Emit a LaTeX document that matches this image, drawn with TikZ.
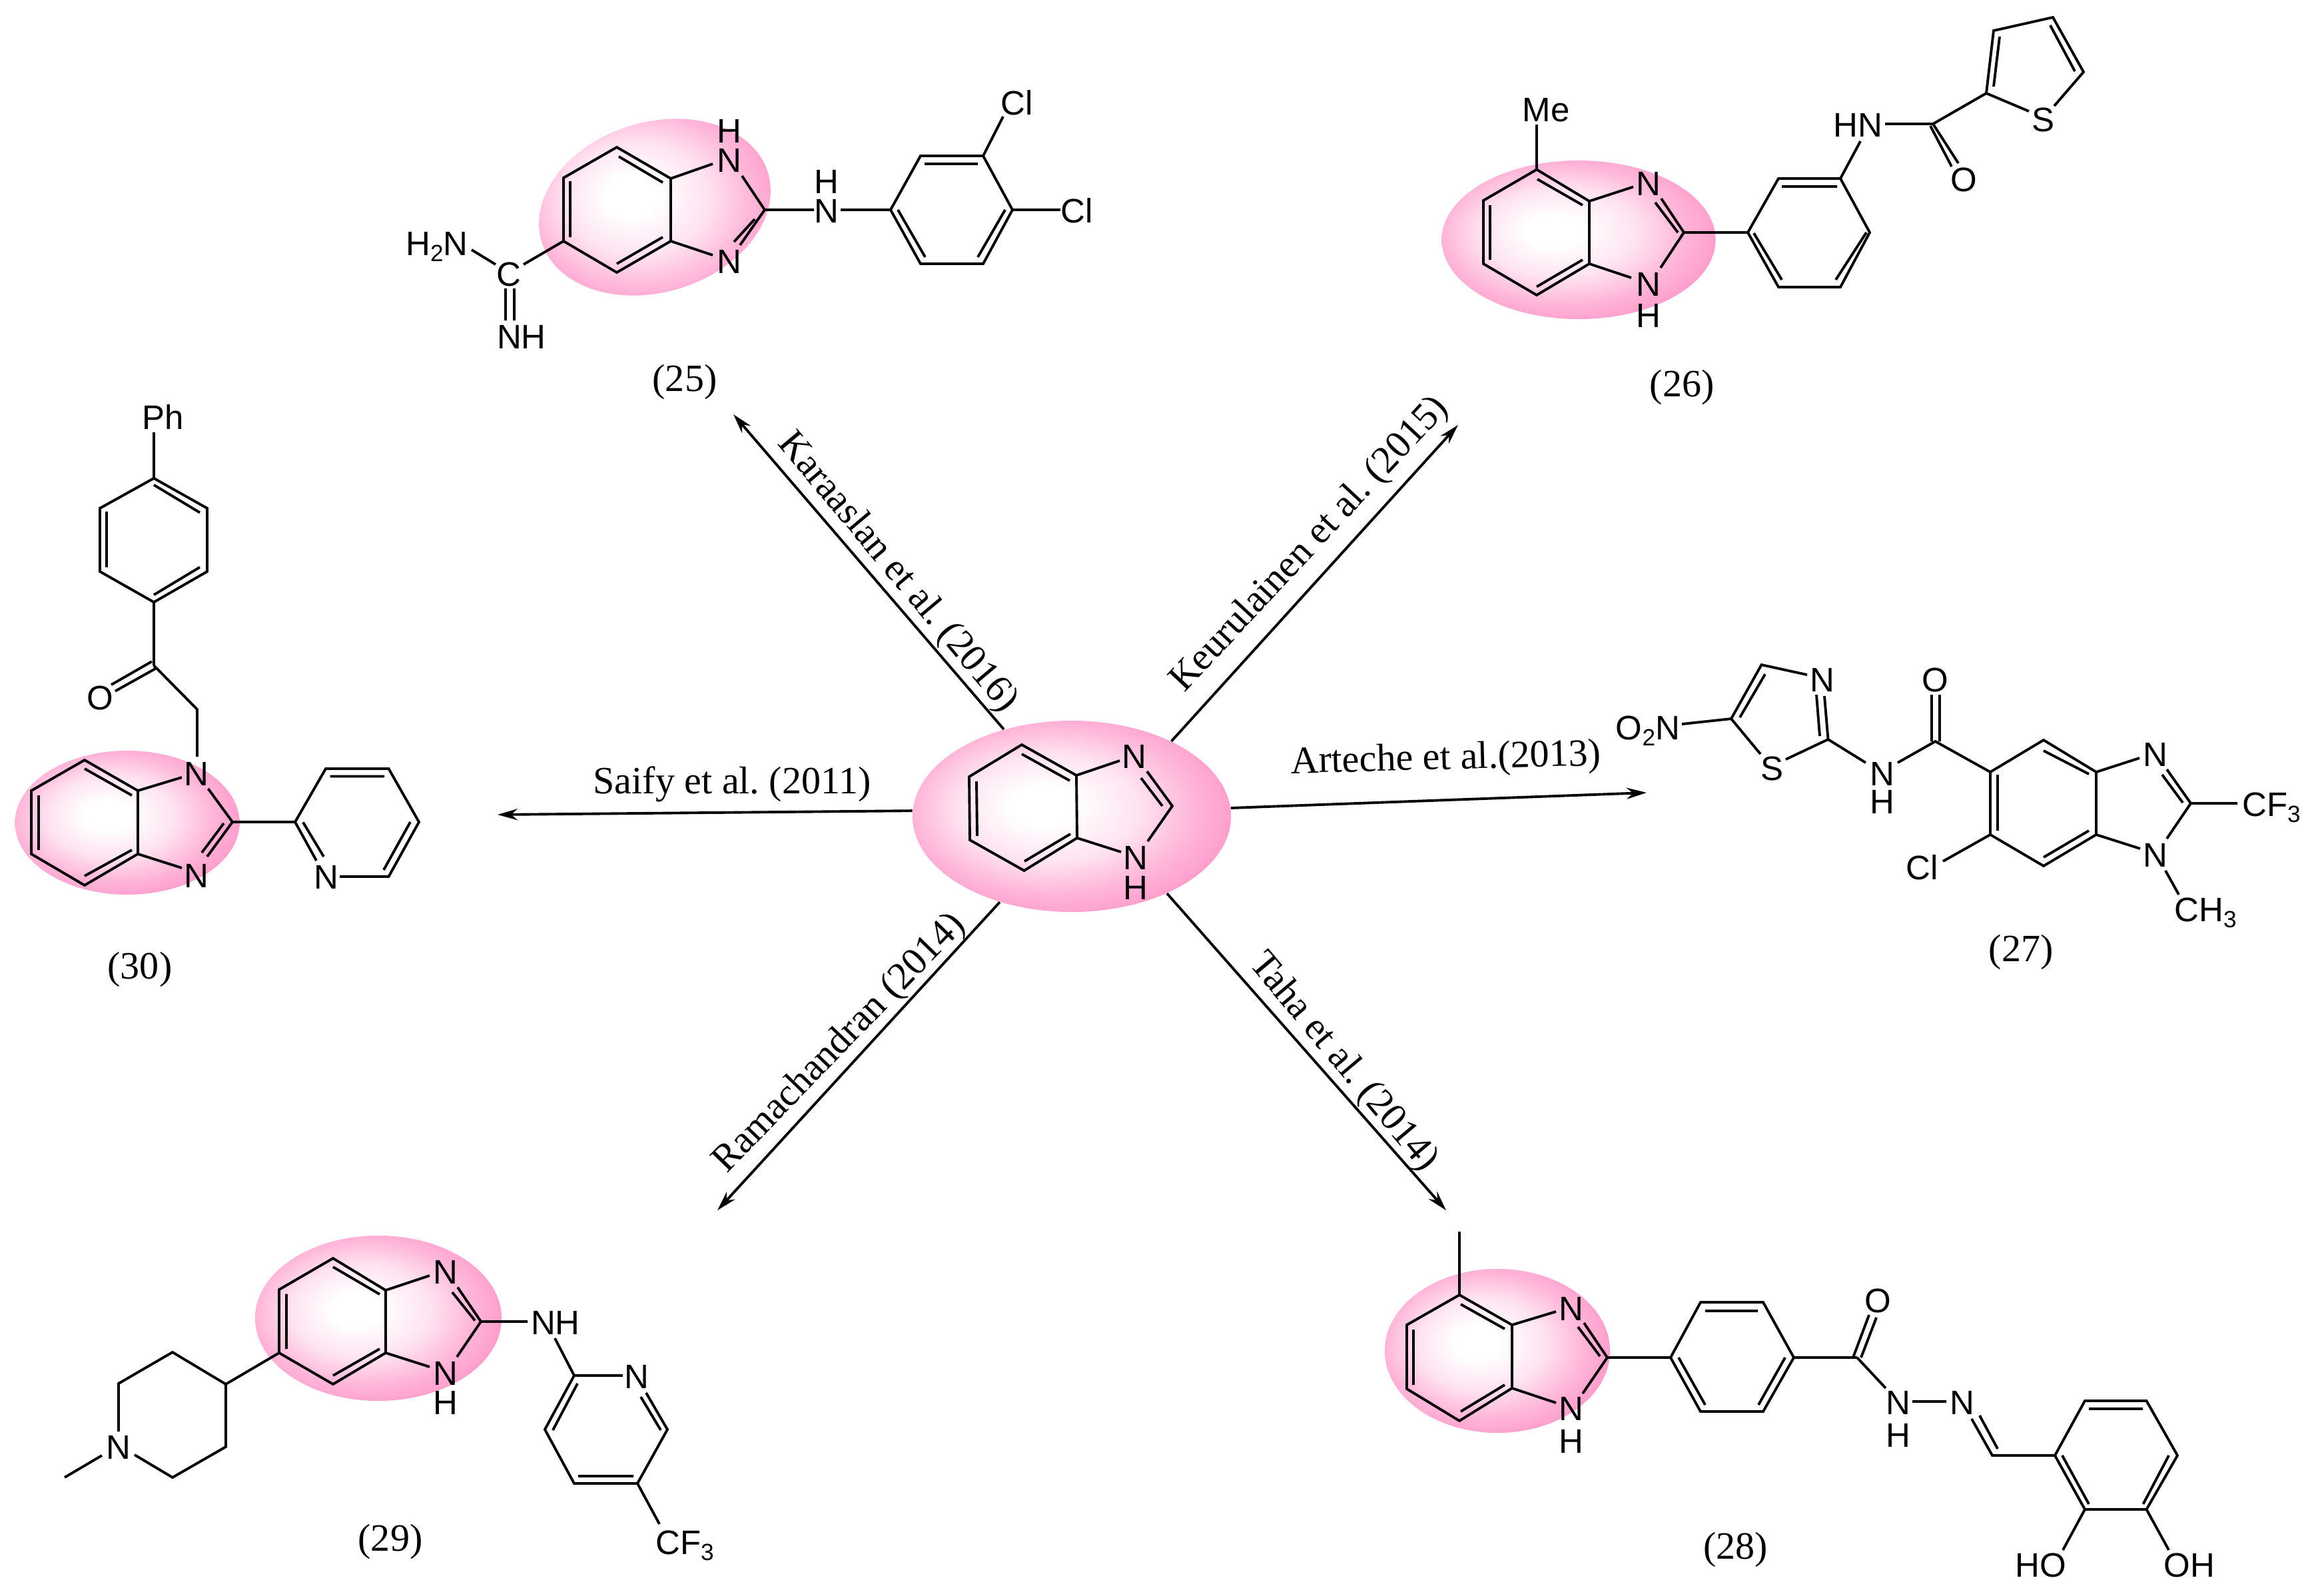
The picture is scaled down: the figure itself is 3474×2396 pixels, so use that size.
\documentclass[tikz,border=0pt]{standalone}
\usepackage{fontspec}
\setmainfont{Liberation Serif}
\newfontfamily\atomfam{Liberation Sans}
\usetikzlibrary{arrows.meta,shapes.geometric}
\definecolor{ballA}{HTML}{FFFFFF}
\definecolor{ballB}{HTML}{FFE3F1}
\definecolor{ballC}{HTML}{FFB5D9}
\definecolor{ballD}{HTML}{FF9CCC}
\pgfdeclareradialshading{pinkball}{\pgfpoint{-5bp}{3bp}}{color(0bp)=(ballA); color(5bp)=(ballA); color(14bp)=(ballB); color(22bp)=(ballC); color(28bp)=(ballD); color(50bp)=(ballD)}
\newcommand{\subd}[1]{\raisebox{-2.6pt}{\fontsize{10}{10}\selectfont #1}}
\tikzset{
  ball/.style={ellipse,shading=pinkball,draw=none,inner sep=0pt},
  bond/.style={line width=1.1pt,line join=miter},
  link/.style={line width=1.1pt,-{Stealth[length=0.3cm,width=0.17cm]}},
  atom/.style={font=\atomfam\fontsize{14.5}{14.5}\selectfont,inner sep=0pt,text height=10.4pt,text depth=0pt},
  caption/.style={font=\frenchspacing\fontsize{16.5}{16.5}\selectfont,inner sep=0pt},
  ref/.style={font=\fontsize{16.5}{16.5}\selectfont,inner sep=0pt}
}
\begin{document}
\begin{tikzpicture}[x=0.01cm,y=-0.01cm]
\useasboundingbox (0,0) rectangle (3474,2396);
% ---------- ellipses
\node[ball,minimum width=4.78cm,minimum height=2.87cm] (hub) at (1609,1225.5) {};
\node[ball,minimum width=3.55cm,minimum height=2.55cm,rotate=17] (e25) at (983,311) {};
\node[ball,minimum width=4.11cm,minimum height=2.38cm] (e26) at (2370,360) {};
\node[ball,minimum width=3.38cm,minimum height=2.46cm] (e28) at (2248,2028) {};
\node[ball,minimum width=3.70cm,minimum height=2.48cm] (e29) at (568,1979) {};
\node[ball,minimum width=3.37cm,minimum height=2.16cm] (e30) at (191,1235) {};
% ---------- arrows
\coordinate (t25) at (1101,622);
\coordinate (t26) at (2189,638);
\coordinate (t27) at (2472,1190);
\coordinate (t28) at (2171,1817);
\coordinate (t29) at (1077,1817);
\coordinate (t30) at (747,1223);
\draw[link] (hub.128.2) -- (t25);
\draw[link] (hub.37.9) -- (t26);
\draw[link] (hub.3.7) -- (t27);
\draw[link] (hub.-39.6) -- (t28);
\draw[link] (hub.230.3) -- (t29);
\draw[link] (hub.178.4) -- (t30);
\node[caption,rotate=-50] (c25) at (1347,860) {Karaaslan et al. (2016)};
\node[caption,rotate=47] (c26) at (1967,818) {Keurulainen et al. (2015)};
\node[caption,rotate=1.5] (c27) at (2171,1141) {Arteche et al.(2013)};
\node[caption,rotate=-50] (c28) at (2016,1595) {Taha et al. (2014)};
\node[caption,rotate=46] (c29) at (1261,1567) {Ramachandran (2014)};
\node[caption] (c30) at (1099,1177) {Saify et al. (2011)};
% ---------- hub molecule
\draw[bond] (1681,1142)--(1616,1164)--(1534,1118)--(1455,1166)--(1456,1261)--(1537.5,1307)--(1617,1258)--(1616,1164)
  (1617,1258)--(1683,1279)
  (1722,1158)--(1760,1210)--(1723,1263)
  (1713,1168)--(1745,1210)
  (1534,1132)--(1606,1172) (1466,1173)--(1467,1255) (1538,1293)--(1607,1252);
\node[atom] (hN1) at (1703,1135) {N};
\node[atom] (hN2) at (1705,1287) {N};
\node[atom] (hH) at (1705,1332) {H};
% ---------- 25
\draw[bond] (1070,246)--(1007,268)--(926,221)--(846,267)--(846,362)--(926,409)--(1007,362)--(1007,268)
  (1007,362)--(1070,383)
  (1114,264)--(1148,315)--(1111,368)
  (1133,329)--(1102,363)
  (929,235)--(995,274) (856,272)--(856,356) (926,396)--(995,356)
  (1148,315)--(1222,315) (1262,315)--(1337,315)
  (1337,315)--(1382,234)--(1476,234)--(1520,315)--(1476,396)--(1382,396)--cycle
  (1388,246)--(1468,246) (1509,315)--(1468,386) (1348,315)--(1389,386)
  (1476,234)--(1506,175) (1520,315)--(1592,315)
  (846,362)--(786,397) (708,375)--(744,397)
  (759,433)--(759,481) (772,433)--(772,481);
\node[atom] (a25a) at (1095,196) {H};
\node[atom] (a25b) at (1095,240) {N};
\node[atom] (a25c) at (1095,392) {N};
\node[atom] (a25d) at (1241,272) {H};
\node[atom] (a25e) at (1241,316) {N};
\node[atom] (a25f) at (1527,154) {Cl};
\node[atom] (a25g) at (1617,316) {Cl};
\node[atom] (a25h) at (764,411) {C};
\node[atom] (a25i) at (656,365) {H\subd{2}N};
\node[atom] (a25j) at (783,505) {NH};
\node[ref] (r25) at (1028,574) {(25)};
% ---------- 26
\draw[bond] (2307,254.5)--(2386,302)--(2386,396)--(2307,443)--(2227,396)--(2227,301)--cycle
  (2308,269)--(2376,308) (2237,308)--(2237,390) (2307,430.5)--(2376,390)
  (2307,254.5)--(2307,187)
  (2386,302)--(2452,280.5) (2386,396)--(2449,417)
  (2494,298)--(2528,349)--(2493,402)
  (2485,304)--(2519,349)
  (2528,349)--(2624,349)
  (2624,349)--(2670,268)--(2763,268)--(2807,349)--(2763,431)--(2670,431)--cycle
  (2675,280)--(2758,280) (2633,350)--(2675,420) (2802,349)--(2756,420)
  (2763,268)--(2793,212)
  (2830,186)--(2902,186)--(2940,245) (2898,189)--(2930,250)
  (2902,186)--(2982,140)
  (3046,167)--(2982,140)--(2993,46)--(3082,26)--(3128,108)--(3084,159)
  (3002,55)--(2993,130) (3078,38)--(3115,107);
\node[atom] (a26a) at (2321,164) {Me};
\node[atom] (a26b) at (2475,275) {N};
\node[atom] (a26c) at (2475,426) {N};
\node[atom] (a26d) at (2475,473) {H};
\node[atom] (a26e) at (2789,187.5) {HN};
\node[atom] (a26f) at (2948,269) {O};
\node[atom] (a26g) at (3067,179) {S};
\node[ref] (r26) at (2525,582) {(26)};
% ---------- 27
\draw[bond] (2525,1087)--(2599,1079)--(2644.5,998)--(2713,1013)
  (2739,1045)--(2744.5,1110) (2727,1043)--(2732,1105)
  (2599,1079)--(2643,1132) (2744.5,1110)--(2681,1140)
  (2650,1012)--(2612,1077)
  (2744.5,1110)--(2801,1145)
  (2849,1145)--(2905.5,1113)--(2988,1159)
  (2900,1113)--(2900,1043) (2912,1113)--(2912,1043)
  (2988,1159)--(3068,1111)--(3147,1159)--(3147,1253)--(3068,1300)--(2988,1253)--cycle
  (3068,1127)--(3136,1162) (2999,1163)--(2999,1247) (3068,1287)--(3136,1247)
  (3147,1159)--(3212,1138) (3147,1253)--(3213,1274)
  (3253,1155)--(3289,1206)--(3253,1259)
  (3246,1163)--(3277,1205)
  (3289,1206)--(3359,1206)
  (2988,1253)--(2917,1293)
  (3251,1307)--(3271,1343);
\node[atom] (a27a) at (2474,1092) {O\subd{2}N};
\node[atom] (a27b) at (2736,1020) {N};
\node[atom] (a27c) at (2660,1153) {S};
\node[atom] (a27d) at (2826,1161) {N};
\node[atom] (a27e) at (2826,1203) {H};
\node[atom] (a27f) at (2905.5,1020) {O};
\node[atom] (a27g) at (3236,1132) {N};
\node[atom] (a27h) at (3236,1283) {N};
\node[atom] (a27i) at (3410,1207) {CF\subd{3}};
\node[atom] (a27j) at (2886,1302) {Cl};
\node[atom] (a27k) at (3311,1365) {CH\subd{3}};
\node[ref] (r27) at (3034,1430) {(27)};
% ---------- 28
\draw[bond] (2191,1944)--(2270,1989)--(2270,2084)--(2191,2133)--(2112,2085)--(2112,1989)--cycle
  (2193,1958)--(2259,1995) (2122,1996)--(2122,2079) (2193,2119)--(2259,2079)
  (2191,1944)--(2191,1849)
  (2270,1989)--(2336,1969) (2270,2084)--(2336,2106)
  (2378,1986)--(2413,2038)--(2376,2092)
  (2369,1992)--(2402,2036)
  (2413,2038)--(2508,2038)
  (2508,2038)--(2553,1955)--(2647,1955)--(2693,2038)--(2647,2119)--(2553,2119)--cycle
  (2560,1968)--(2639,1968) (2520,2038)--(2560,2109) (2680,2038)--(2640,2109)
  (2693,2038)--(2788,2038)
  (2782,2038)--(2806,1974) (2794,2038)--(2817,1978)
  (2788,2038)--(2831,2084)
  (2871,2104)--(2922,2104)
  (2960,2130)--(2991,2185)--(3085,2185) (2972,2125)--(2999,2175)
  (3085,2185)--(3130,2103)--(3222.5,2103)--(3269,2185)--(3222.5,2266)--(3130,2266)--cycle
  (3136,2115)--(3217,2115) (3096,2185)--(3136,2258) (3256,2185)--(3217.5,2258)
  (3130,2266)--(3097,2327) (3222.5,2266)--(3256,2327);
\node[atom] (a28a) at (2359,1964) {N};
\node[atom] (a28b) at (2359,2114) {N};
\node[atom] (a28c) at (2359,2163) {H};
\node[atom] (a28d) at (2819.5,1952) {O};
\node[atom] (a28e) at (2850,2105) {N};
\node[atom] (a28f) at (2850,2154) {H};
\node[atom] (a28g) at (2945.5,2105) {N};
\node[atom] (a28h) at (3064,2349) {HO};
\node[atom] (a28i) at (3287,2349) {OH};
\node[ref] (r28) at (2605.5,2327) {(28)};
% ---------- 29
\draw[bond] (500,1889)--(579,1937)--(579,2031)--(500,2078)--(419,2031)--(419,1936)--cycle
  (500,1902)--(570,1943) (430,1942.5)--(430,2025) (500,2065)--(570,2025)
  (579,1937)--(645,1915) (579,2031)--(645,2052)
  (687,1932.5)--(722,1984)--(686,2037)
  (679,1940)--(713,1982.5)
  (722,1984)--(792,1984)
  (833,2009)--(862,2065)
  (935,2065)--(862,2065)--(818,2146)--(862,2227)--(957,2227)--(1002,2146)--(970,2091)
  (962,2097)--(992,2147)
  (867,2077)--(830,2147) (868,2216)--(951,2216)
  (957,2227)--(990,2288)
  (419,2031)--(339,2078)
  (178,2149)--(178,2077)--(259,2030)--(339,2078)--(339,2172)--(259,2218)--(202,2184)
  (153,2185)--(97,2218);
\node[atom] (a29a) at (669,1909) {N};
\node[atom] (a29b) at (669,2061) {N};
\node[atom] (a29c) at (669,2105) {H};
\node[atom] (a29d) at (834,1985) {NH};
\node[atom] (a29e) at (956,2066) {N};
\node[atom] (a29f) at (1028,2315) {CF\subd{3}};
\node[atom] (a29g) at (178,2172) {N};
\node[ref] (r29) at (586,2315) {(29)};
% ---------- 30
\draw[bond] (127,1141)--(207,1187)--(207,1282)--(127,1329)--(47,1282)--(47,1187)--cycle
  (127,1154)--(198,1194) (58,1194)--(58,1276) (127,1315)--(198,1276)
  (207,1187)--(273,1167) (207,1282)--(273,1303)
  (312.5,1184)--(349,1234)--(311,1286)
  (336,1236)--(303,1280)
  (349,1234)--(443,1234)
  (475,1292)--(443,1234)--(489,1154)--(583.5,1154)--(629,1234)--(583.5,1316)--(510,1316)
  (455,1234.5)--(486,1286) (495.5,1165.5)--(577,1165.5) (616,1234)--(576,1306)
  (296,1136)--(296,1065)--(231,999)
  (228,993)--(167,1028) (233,1004)--(173,1037.5)
  (231,999)--(231,904)
  (231,904)--(311,858)--(311,763)--(231,718)--(150,763)--(150,858)--cycle
  (231,893)--(300,851.5) (300,769.5)--(231,728) (160,768)--(160,851.5)
  (231,718)--(231,649);
\node[atom] (a30a) at (295,1161.5) {N};
\node[atom] (a30b) at (295,1314) {N};
\node[atom] (a30c) at (490,1316.5) {N};
\node[atom] (a30d) at (150,1047) {O};
\node[atom] (a30e) at (245,626) {Ph};
\node[ref] (r30) at (210,1456) {(30)};
\end{tikzpicture}
\end{document}
